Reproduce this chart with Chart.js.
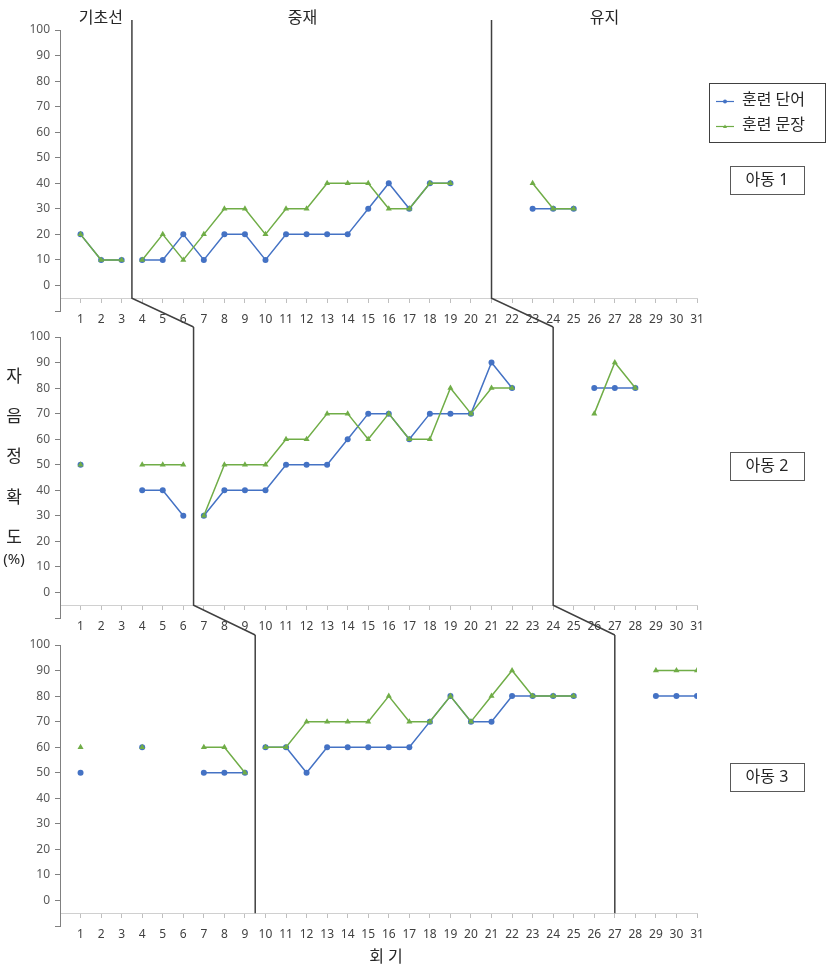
<!DOCTYPE html>
<html>
<head>
<meta charset="utf-8">
<script src="https://cdn.jsdelivr.net/npm/chart.js@4"></script>
<style>
  body { margin: 0; background: #fff; }
  #wrap { position: relative; width: 827px; height: 971px; }
  canvas { position: absolute; left: 0; }
</style>
</head>
<body>
<div id="wrap">
  <canvas id="panel1" width="827" height="331" style="top:0px"></canvas>
  <canvas id="panel2" width="827" height="331" style="top:307px"></canvas>
  <canvas id="panel3" width="827" height="356" style="top:615px"></canvas>
</div>
<script>
// sessions 1..31
const sessions = [1, 2, 3, 4, 5, 6, 7, 8, 9, 10, 11, 12, 13, 14, 15, 16, 17, 18, 19, 20, 21, 22, 23, 24, 25, 26, 27, 28, 29, 30, 31];

const seriesNames = ['훈련 단어', '훈련 문장'];
const childNames = ['아동 1', '아동 2', '아동 3'];
const phaseNames = ['기초선', '중재', '유지'];

// where the phase lines sit on the session axis, per child
const phaseChanges = [[3.5, 21], [6.5, 24], [9.5, 27]];

// 아동 1
const child1Word = [20, 10, 10, 10, 10, 20, 10, 20, 20, 10, 20, 20, 20, 20, 30, 40, 30, 40, 40, null, null, null, 30, 30, 30, null, null, null, null, null, null];
const child1Sentence = [20, 10, 10, 10, 20, 10, 20, 30, 30, 20, 30, 30, 40, 40, 40, 30, 30, 40, 40, null, null, null, 40, 30, 30, null, null, null, null, null, null];

// 아동 2
const child2Word = [50, null, null, 40, 40, 30, 30, 40, 40, 40, 50, 50, 50, 60, 70, 70, 60, 70, 70, 70, 90, 80, null, null, null, 80, 80, 80, null, null, null];
const child2Sentence = [50, null, null, 50, 50, 50, 30, 50, 50, 50, 60, 60, 70, 70, 60, 70, 60, 60, 80, 70, 80, 80, null, null, null, 70, 90, 80, null, null, null];

// 아동 3
const child3Word = [50, null, null, 60, null, null, 50, 50, 50, 60, 60, 50, 60, 60, 60, 60, 60, 70, 80, 70, 70, 80, 80, 80, 80, null, null, null, 80, 80, 80];
const child3Sentence = [60, null, null, 60, null, null, 60, 60, 50, 60, 60, 70, 70, 70, 70, 80, 70, 70, 80, 70, 80, 90, 80, 80, 80, null, null, null, 90, 90, 90];

const panelTops = [0, 307, 615];
const FONT = "'Noto Sans', 'Noto Sans CJK KR', sans-serif";
const BLUE = '#4472C4';
const GREEN = '#70AD47';

Chart.defaults.font.family = FONT;

function crossesPhase(k, ctx) {
  const a = ctx.p0.parsed.x, b = ctx.p1.parsed.x;
  return phaseChanges[k].some(v => a < v && b > v);
}

function drawMarker(ctx, style, x, y, r, color) {
  ctx.fillStyle = color;
  ctx.beginPath();
  if (style === 'circle') {
    ctx.arc(x, y, r, 0, Math.PI * 2);
  } else {
    ctx.moveTo(x, y - r);
    ctx.lineTo(x + r, y + r * 0.75);
    ctx.lineTo(x - r, y + r * 0.75);
    ctx.closePath();
  }
  ctx.fill();
}

const decorPlugin = {
  id: 'decor',
  afterDraw(chart, args, opts) {
    const k = opts.panel;
    const { ctx, chartArea, scales: { x, y } } = chart;
    const lineTop = chartArea.top - 10;
    const axisY = y.getPixelForValue(-5);

    ctx.save();
    // phase change lines, joined to the next child's lines
    ctx.strokeStyle = '#404040';
    ctx.lineWidth = 1.5;
    phaseChanges[k].forEach((v, i) => {
      const px = x.getPixelForValue(v);
      ctx.beginPath();
      ctx.moveTo(px, lineTop);
      ctx.lineTo(px, axisY);
      if (k < phaseChanges.length - 1) {
        const step = panelTops[k + 1] - panelTops[k];
        ctx.lineTo(x.getPixelForValue(phaseChanges[k + 1][i]), lineTop + step);
      }
      ctx.stroke();
    });

    ctx.fillStyle = '#262626';
    ctx.textAlign = 'center';
    ctx.textBaseline = 'middle';

    if (k === 0) {
      // phase titles
      ctx.font = '16px ' + FONT;
      [1.99, 11.8, 26.5].forEach((v, i) => {
        ctx.fillText(phaseNames[i], x.getPixelForValue(v), 18);
      });

      // legend
      const lx = chartArea.right + 12;
      ctx.strokeStyle = '#404040';
      ctx.lineWidth = 1;
      ctx.strokeRect(lx + 0.5, 83.5, 116, 59);
      chart.data.datasets.forEach((ds, i) => {
        const ly = 101.5 + i * 25;
        ctx.strokeStyle = ds.borderColor;
        ctx.lineWidth = 1.2;
        ctx.beginPath();
        ctx.moveTo(lx + 7, ly);
        ctx.lineTo(lx + 25, ly);
        ctx.stroke();
        drawMarker(ctx, ds.pointStyle, lx + 16, ly, 2, ds.borderColor);
        ctx.fillStyle = '#262626';
        ctx.textAlign = 'left';
        ctx.font = '16px ' + FONT;
        ctx.fillText(ds.label, lx + 33, ly - 1);
      });
    }

    if (k === 1) {
      // y axis title, one syllable per line
      ctx.textAlign = 'center';
      ctx.font = '17px ' + FONT;
      ['자', '음', '정', '확', '도'].forEach((ch, i) => {
        ctx.fillText(ch, 14, 70 + i * 40.3);
      });
      ctx.font = '15px ' + FONT;
      ctx.fillText('(%)', 14, 253);
    }

    if (k === 2) {
      ctx.textAlign = 'center';
      ctx.font = '16px ' + FONT;
      ctx.fillText('회 기', 386, 342);
    }

    // child label box
    const boxY = [180, 159, 162][k];
    const bx = chartArea.right + 33;
    ctx.strokeStyle = '#595959';
    ctx.lineWidth = 1;
    ctx.strokeRect(bx + 0.5, boxY - 13.5, 74, 28);
    ctx.fillStyle = '#262626';
    ctx.textAlign = 'center';
    ctx.font = '16px ' + FONT;
    ctx.fillText(childNames[k], bx + 37, boxY);
    ctx.restore();
  }
};

function makePanel(k, canvasId, wordVals, sentenceVals) {
  const mk = (vals) => sessions.map((s, i) => ({ x: s, y: vals[i] }));
  const segment = { borderColor: ctx => crossesPhase(k, ctx) ? 'rgba(0,0,0,0)' : undefined };

  return new Chart(document.getElementById(canvasId), {
    type: 'line',
    data: {
      datasets: [
        {
          label: seriesNames[0],
          data: mk(wordVals),
          borderColor: BLUE,
          backgroundColor: BLUE,
          borderWidth: 1.5,
          pointStyle: 'circle',
          pointRadius: 3,
          pointBorderWidth: 0,
          spanGaps: false,
          order: 1,
          segment
        },
        {
          label: seriesNames[1],
          data: mk(sentenceVals),
          borderColor: GREEN,
          backgroundColor: GREEN,
          borderWidth: 1.5,
          pointStyle: 'triangle',
          pointRadius: 3.5,
          pointBorderWidth: 0,
          spanGaps: false,
          order: 0,
          segment
        }
      ]
    },
    options: {
      responsive: false,
      animation: false,
      events: [],
      layout: { padding: { top: 30, right: 130, bottom: k === 2 ? 45 : 20, left: 0 } },
      plugins: {
        legend: { display: false },
        tooltip: { enabled: false },
        decor: { panel: k }
      },
      scales: {
        x: {
          type: 'linear',
          min: 0,
          max: 31,
          position: { y: -5 },
          ticks: {
            stepSize: 1,
            maxTicksLimit: 40,
            autoSkip: false,
            maxRotation: 0,
            padding: 10,
            color: '#404040',
            font: { size: 12 },
            callback: v => v === 0 ? '' : v
          },
          grid: { drawOnChartArea: false, tickLength: 4, color: '#bfbfbf' },
          border: { color: '#d0d0d0', width: 1 }
        },
        y: {
          min: -10,
          max: 100,
          ticks: {
            stepSize: 10,
            maxTicksLimit: 20,
            padding: 5,
            color: '#595959',
            font: { size: 12 },
            callback: v => v < 0 ? '' : v
          },
          grid: { drawOnChartArea: false, tickLength: 5, color: '#808080' },
          border: { color: '#808080', width: 1 },
          afterFit: s => { s.width = 60; }
        }
      }
    },
    plugins: [decorPlugin]
  });
}

makePanel(0, 'panel1', child1Word, child1Sentence);
makePanel(1, 'panel2', child2Word, child2Sentence);
makePanel(2, 'panel3', child3Word, child3Sentence);
</script>
</body>
</html>
